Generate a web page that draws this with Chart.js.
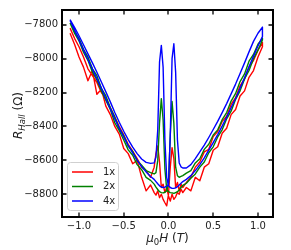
<!DOCTYPE html>
<html>
<head>
<meta charset="utf-8">
<title>Hall resistance vs field</title>
<script src="https://cdn.jsdelivr.net/npm/chart.js@4.4.0/dist/chart.umd.min.js"></script>
<style>
  html, body { margin: 0; padding: 0; background: #fff; }
  #hallChart { display: block; }
</style>
</head>
<body>
<canvas id="hallChart" width="291" height="250"></canvas>
<script>
// Field (T) for one sweep, ascending
const fieldGrid = [
  -1.10, -1.05, -1.00, -0.95, -0.90, -0.85, -0.80, -0.75, -0.70, -0.65, -0.60, -0.55, -0.50, -0.45, -0.40, -0.35, -0.30, -0.25, -0.20,
  -0.16, -0.14, -0.12, -0.10, -0.08, -0.06, -0.04, -0.02, 0.00, 0.02, 0.04, 0.06, 0.08, 0.10, 0.12, 0.14, 0.16,
  0.20, 0.25, 0.30, 0.35, 0.40, 0.45, 0.50, 0.55, 0.60, 0.65, 0.70, 0.75, 0.80, 0.85, 0.90, 0.95, 1.00, 1.05
];

const seriesLabels = ['1x', '2x', '4x'];

// R_Hall (Ohm). "Up" = sweep from -H to +H, "Down" = sweep back, both listed in ascending field order
const r1xUp = [
  -7850, -7915, -7990, -8050, -8130, -8070, -8210, -8180, -8280, -8330, -8400, -8445, -8530, -8560, -8620, -8600, -8700, -8780, -8745,
  -8790, -8805, -8780, -8820, -8800, -8830, -8850, -8868, -8800, -8640, -8525, -8590, -8760, -8730, -8780, -8740, -8760,
  -8730, -8700, -8640, -8610, -8550, -8535, -8460, -8430, -8370, -8340, -8270, -8230, -8160, -8120, -8050, -8010, -7950, -7905
];
const r1xDown = [
  -7820, -7880, -7930, -7990, -8060, -8100, -8140, -8200, -8235, -8290, -8345, -8400, -8450, -8505, -8545, -8590, -8640, -8660, -8700,
  -8640, -8560, -8515, -8610, -8760, -8740, -8790, -8760, -8810, -8840, -8800, -8830, -8815, -8790, -8800, -8770, -8790,
  -8760, -8780, -8700, -8720, -8640, -8620, -8540, -8520, -8440, -8410, -8330, -8300, -8220, -8190, -8110, -8070, -7990, -7930
];

const r2xUp = [
  -7790, -7850, -7895, -7962, -8010, -8080, -8125, -8190, -8245, -8300, -8378, -8425, -8480, -8538, -8570, -8625, -8655, -8700, -8718,
  -8740, -8758, -8772, -8785, -8790, -8792, -8788, -8780, -8740, -8450, -8253, -8380, -8640, -8690, -8700, -8695, -8690,
  -8675, -8660, -8615, -8590, -8535, -8505, -8450, -8420, -8360, -8318, -8250, -8205, -8135, -8090, -8015, -7975, -7915, -7880
];
const r2xDown = [
  -7790, -7838, -7880, -7945, -7990, -8060, -8100, -8175, -8220, -8290, -8345, -8410, -8455, -8515, -8548, -8600, -8628, -8660, -8672,
  -8680, -8672, -8600, -8380, -8236, -8360, -8650, -8770, -8785, -8790, -8792, -8795, -8790, -8785, -8775, -8760, -8748,
  -8735, -8705, -8680, -8640, -8610, -8555, -8520, -8462, -8420, -8355, -8310, -8240, -8190, -8120, -8070, -8000, -7950, -7890
];

const r4xUp = [
  -7775, -7832, -7890, -7948, -8005, -8062, -8118, -8175, -8236, -8296, -8355, -8410, -8462, -8512, -8556, -8598, -8636, -8668, -8695,
  -8712, -8725, -8738, -8750, -8757, -8760, -8758, -8752, -8740, -8450, -8000, -7912, -8080, -8480, -8615, -8638, -8645,
  -8645, -8625, -8590, -8550, -8510, -8465, -8418, -8370, -8318, -8265, -8208, -8150, -8088, -8025, -7960, -7898, -7850, -7815
];
const r4xDown = [
  -7770, -7815, -7865, -7918, -7972, -8025, -8080, -8138, -8196, -8255, -8318, -8375, -8428, -8478, -8522, -8560, -8592, -8612, -8618,
  -8615, -8580, -8420, -8020, -7922, -8050, -8480, -8700, -8750, -8760, -8765, -8765, -8762, -8755, -8745, -8735, -8725,
  -8712, -8690, -8660, -8625, -8585, -8540, -8495, -8448, -8398, -8345, -8290, -8235, -8175, -8112, -8048, -7985, -7925, -7870
];

const xTicks = [-1.0, -0.5, 0.0, 0.5, 1.0];
const yTicks = [-8800, -8600, -8400, -8200, -8000, -7800];

// up sweep, then back down
function makeLoop(upVals, downVals) {
  const pts = fieldGrid.map((h, i) => ({ x: h, y: upVals[i] }));
  for (let i = fieldGrid.length - 1; i >= 0; i--) {
    pts.push({ x: fieldGrid[i], y: downVals[i] });
  }
  return pts;
}

function minusSign(s) {
  return String(s).replace('-', '\u2212');
}

// frame and inward ticks on all four sides
const frameTicks = {
  id: 'frameTicks',
  afterDraw(chart) {
    const ctx = chart.ctx;
    const a = chart.chartArea;
    const xs = chart.scales.x;
    const ys = chart.scales.y;
    ctx.save();
    ctx.strokeStyle = '#000';
    ctx.lineWidth = 1.3;
    ctx.beginPath();
    xTicks.forEach(v => {
      const px = Math.round(xs.getPixelForValue(v));
      ctx.moveTo(px, a.bottom); ctx.lineTo(px, a.bottom - 4.5);
      ctx.moveTo(px, a.top); ctx.lineTo(px, a.top + 4.5);
    });
    yTicks.forEach(v => {
      const py = Math.round(ys.getPixelForValue(v));
      ctx.moveTo(a.left, py); ctx.lineTo(a.left + 4.5, py);
      ctx.moveTo(a.right, py); ctx.lineTo(a.right - 4.5, py);
    });
    ctx.stroke();
    ctx.lineWidth = 2;
    ctx.strokeRect(a.left, a.top, a.right - a.left, a.bottom - a.top);
    ctx.restore();
  }
};

// legend box in the lower left corner of the plot
const insetLegend = {
  id: 'insetLegend',
  afterDraw(chart) {
    const ctx = chart.ctx;
    const a = chart.chartArea;
    const bx = a.left + 5, by = a.bottom - 55, bw = 51, bh = 48;
    ctx.save();
    ctx.beginPath();
    ctx.roundRect(bx + 0.5, by + 0.5, bw, bh, 3);
    ctx.fillStyle = 'rgba(255,255,255,0.8)';
    ctx.fill();
    ctx.strokeStyle = '#d0d0d0';
    ctx.lineWidth = 1;
    ctx.stroke();
    ctx.font = '10px "DejaVu Sans"';
    ctx.textBaseline = 'middle';
    chart.data.datasets.forEach((ds, i) => {
      const y = by + 10 + i * 14.5;
      ctx.strokeStyle = ds.borderColor;
      ctx.lineWidth = 1.5;
      ctx.beginPath();
      ctx.moveTo(bx + 5, y);
      ctx.lineTo(bx + 26, y);
      ctx.stroke();
      ctx.fillStyle = '#222';
      ctx.fillText(ds.label, bx + 36, y);
    });
    ctx.restore();
  }
};

// axis titles with italic and subscript parts
function drawRuns(ctx, runs, cx, baseline) {
  const fontFor = r => (r.italic ? 'italic ' : '') + (r.sub ? '8.5px' : '12px') + ' "DejaVu Sans"';
  let total = 0;
  runs.forEach(r => {
    ctx.font = fontFor(r);
    r.w = ctx.measureText(r.text).width;
    total += r.w;
  });
  let x = cx - total / 2;
  runs.forEach(r => {
    ctx.font = fontFor(r);
    ctx.fillText(r.text, x, baseline + (r.sub ? 2.5 : 0));
    x += r.w;
  });
}

const axisTitles = {
  id: 'axisTitles',
  afterDraw(chart) {
    const ctx = chart.ctx;
    const a = chart.chartArea;
    ctx.save();
    ctx.fillStyle = '#222';
    ctx.textBaseline = 'alphabetic';
    drawRuns(ctx, [
      { text: '\u03bc', italic: true },
      { text: '0', sub: true },
      { text: 'H', italic: true },
      { text: ' (' },
      { text: 'T', italic: true },
      { text: ')' }
    ], (a.left + a.right) / 2, 242);
    ctx.translate(22, (a.top + a.bottom) / 2 + 2);
    ctx.rotate(-Math.PI / 2);
    drawRuns(ctx, [
      { text: 'R', italic: true },
      { text: 'Hall', italic: true, sub: true },
      { text: ' (\u03a9)' }
    ], 0, 0);
    ctx.restore();
  }
};

Chart.defaults.font.family = '"DejaVu Sans"';
Chart.defaults.font.size = 10;
Chart.defaults.color = '#222';

const ctx = document.getElementById('hallChart').getContext('2d');
new Chart(ctx, {
  type: 'line',
  data: {
    datasets: [{
      label: seriesLabels[0],
      data: makeLoop(r1xUp, r1xDown),
      borderColor: '#ff0000',
      order: 3
    }, {
      label: seriesLabels[1],
      data: makeLoop(r2xUp, r2xDown),
      borderColor: '#008000',
      order: 2
    }, {
      label: seriesLabels[2],
      data: makeLoop(r4xUp, r4xDown),
      borderColor: '#0000ff',
      order: 1
    }]
  },
  options: {
    responsive: false,
    animation: false,
    events: [],
    layout: { padding: { left: 0, right: 18, top: 7, bottom: 0 } },
    elements: {
      line: { borderWidth: 1.4, tension: 0, fill: false, borderJoinStyle: 'round' },
      point: { radius: 0 }
    },
    plugins: {
      legend: { display: false },
      tooltip: { enabled: false }
    },
    scales: {
      x: {
        type: 'linear',
        min: -1.19,
        max: 1.168,
        grid: { display: false, drawTicks: false },
        border: { display: false },
        afterBuildTicks: scale => { scale.ticks = xTicks.map(v => ({ value: v })); },
        afterFit: scale => { scale.height = 33; },
        ticks: {
          padding: 3,
          maxRotation: 0,
          callback: v => minusSign(Number(v).toFixed(1))
        }
      },
      y: {
        type: 'linear',
        min: -8934,
        max: -7713,
        grid: { display: false, drawTicks: false },
        border: { display: false },
        afterBuildTicks: scale => { scale.ticks = yTicks.map(v => ({ value: v })); },
        afterFit: scale => { scale.width = 62; },
        ticks: {
          padding: 4,
          callback: v => minusSign(v)
        }
      }
    }
  },
  plugins: [frameTicks, insetLegend, axisTitles]
});
</script>
</body>
</html>
